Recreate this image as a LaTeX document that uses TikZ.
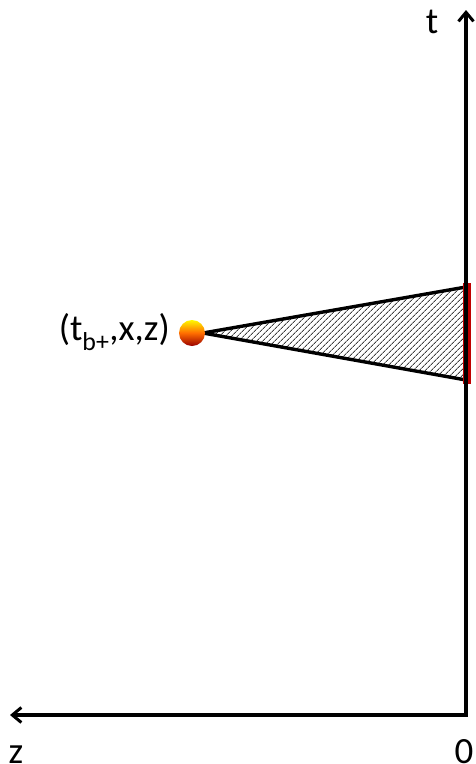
\documentclass[tikz,border=0pt]{standalone}
\usepackage{fontspec}
\setmainfont{Carlito}
\usetikzlibrary{arrows.meta,patterns.meta}
\tikzset{
  tip/.tip={Straight Barb[length=9pt,width=15pt,line width=3pt]},
  axis/.style={line width=3.2pt, tip-tip},
  lab/.style={font=\fontsize{37}{40}\selectfont, inner sep=0pt},
  cone/.style={line width=3.4pt, line join=round, pattern={Lines[angle=45,distance=4pt,line width=1pt]}, pattern color=black!75},
  ballstyle/.style={circle, minimum size=26pt, inner sep=0pt, top color=yellow!95!orange, bottom color=red!60!black, middle color=orange!85!red, shading angle=0},
  redbar/.style={line width=8pt, draw=red!75!black}
}
\begin{document}
\begin{tikzpicture}[x=1pt,y=-1pt]
\useasboundingbox (0,0) rectangle (475,764);
\coordinate (O) at (466,715);
\coordinate (T) at (466,10);
\coordinate (Z) at (10,715);
\coordinate (A) at (203,333);
\coordinate (B) at (466,287);
\coordinate (C) at (466,380);
\draw[cone] (A) -- (B) -- (C) -- cycle;
\draw[redbar] (467,283) coordinate (R1) -- (467,384) coordinate (R2);
\draw[axis] (T) -- (O) -- (Z);
\node[lab] (tlab) at (432,22) {t};
\node[lab, anchor=base] (zlab) at (16,763) {z};
\node[lab, anchor=base] (olab) at (464,763) {0};
\node[ballstyle] (ball) at (192,333) {};
\node[lab, anchor=east] (plab) at (170,332) {(t\textsubscript{b+},x,z)};
\end{tikzpicture}
\end{document}
